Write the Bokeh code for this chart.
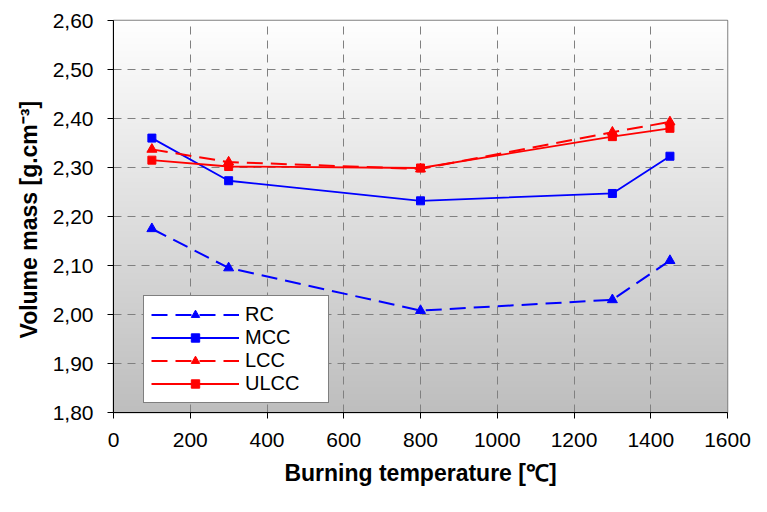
import numpy as np
from bokeh.plotting import figure
from bokeh.models import Range1d, FixedTicker, Legend, LegendItem
from bokeh.embed import file_html
from bokeh.resources import INLINE

temperature = [100, 300, 800, 1300, 1450]
rc = [2.175, 2.095, 2.008, 2.030, 2.110]
mcc = [2.360, 2.273, 2.232, 2.247, 2.323]
lcc = [2.337, 2.311, 2.297, 2.372, 2.393]
ulcc = [2.315, 2.302, 2.299, 2.363, 2.380]

x_ticks = [0, 200, 400, 600, 800, 1000, 1200, 1400, 1600]
y_ticks = [1.8, 1.9, 2.0, 2.1, 2.2, 2.3, 2.4, 2.5, 2.6]
y_tick_labels = ["1,80", "1,90", "2,00", "2,10", "2,20", "2,30", "2,40", "2,50", "2,60"]

FONT = "Liberation Sans"

p = figure(width=751, height=496, output_backend="svg", toolbar_location=None,
           x_range=Range1d(0, 1600), y_range=Range1d(1.8, 2.6),
           min_border_left=113, min_border_right=24, min_border_top=20, min_border_bottom=84)

# gradient background of the plotting area (white at top, grey at bottom)
n = 256
t = np.linspace(0, 1, n)[:, None]  # row 0 = bottom
grey = (255 - (255 - 190) * (1 - t)).astype(np.uint8)
img = np.empty((n, 1), dtype=np.uint32)
view = img.view(dtype=np.uint8).reshape((n, 1, 4))
view[:, :, 0] = grey
view[:, :, 1] = grey
view[:, :, 2] = grey
view[:, :, 3] = 255
p.image_rgba(image=[img], x=p.x_range.start, y=p.y_range.start,
             dw=p.x_range.end - p.x_range.start, dh=p.y_range.end - p.y_range.start,
             level="image")

p.outline_line_color = "#808080"
p.outline_line_width = 1.5

for g in (p.xgrid, p.ygrid):
    g.grid_line_color = "#808080"
    g.grid_line_dash = "8 6"
    g.grid_line_width = 1
p.xgrid.ticker = FixedTicker(ticks=x_ticks)
p.ygrid.ticker = FixedTicker(ticks=y_ticks)

p.xaxis.ticker = FixedTicker(ticks=x_ticks)
p.yaxis.ticker = FixedTicker(ticks=y_ticks)
p.yaxis.major_label_overrides = {v: s for v, s in zip(y_ticks, y_tick_labels)}

for ax in (p.xaxis, p.yaxis):
    ax.axis_line_color = "black"
    ax.axis_line_width = 1
    ax.major_tick_line_color = "black"
    ax.major_tick_out = 6
    ax.major_tick_in = 0
    ax.minor_tick_out = 0
    ax.minor_tick_in = 0
    ax.major_label_text_font = FONT
    ax.major_label_text_color = "black"
    ax.axis_label_text_font = FONT
    ax.axis_label_text_font_style = "bold"
    ax.axis_label_text_font_size = "23px"
    ax.axis_label_text_color = "black"

p.xaxis.major_label_text_font_size = "21px"
p.yaxis.major_label_text_font_size = "21px"
p.xaxis.axis_label = "Burning temperature [℃]"
p.yaxis.axis_label = "Volume mass  [g.cm⁻³]"
p.xaxis.major_label_standoff = 14
p.yaxis.major_label_standoff = 14
p.xaxis.axis_label_standoff = 10
p.yaxis.axis_label_standoff = 8

BLUE = "#0000ff"
RED = "#ff0000"

l1 = p.line(temperature, rc, line_color=BLUE, line_width=2, line_dash="16 8")
m1 = p.scatter(temperature, rc, marker="triangle", size=10, color=BLUE)
l2 = p.line(temperature, mcc, line_color=BLUE, line_width=1.8)
m2 = p.scatter(temperature, mcc, marker="square", size=8, color=BLUE)
l3 = p.line(temperature, lcc, line_color=RED, line_width=2, line_dash="16 8")
m3 = p.scatter(temperature, lcc, marker="triangle", size=10, color=RED)
l4 = p.line(temperature, ulcc, line_color=RED, line_width=1.8)
m4 = p.scatter(temperature, ulcc, marker="square", size=8, color=RED)

legend = Legend(items=[
    LegendItem(label="RC", renderers=[l1, m1]),
    LegendItem(label="MCC", renderers=[l2, m2]),
    LegendItem(label="LCC", renderers=[l3, m3]),
    LegendItem(label="ULCC", renderers=[l4, m4]),
], location=(30, 9))
legend.label_text_font = FONT
legend.label_text_font_size = "20px"
legend.label_text_color = "black"
legend.glyph_width = 88
legend.glyph_height = 21
legend.label_height = 21
legend.label_width = 76
legend.spacing = 0
legend.padding = 7
legend.margin = 0
legend.label_standoff = 6
legend.border_line_color = "black"
legend.border_line_width = 1
legend.background_fill_color = "white"
legend.background_fill_alpha = 1
p.add_layout(legend, "center")

open("out.html", "w").write(file_html(p, INLINE))
